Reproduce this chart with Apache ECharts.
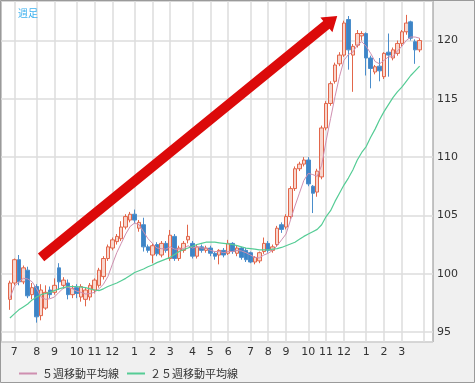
<!DOCTYPE html>
<html><head><meta charset="utf-8">
<script src="https://cdn.jsdelivr.net/npm/echarts@6/dist/echarts.min.js"></script>
<style>html,body{margin:0;padding:0;background:#f0f0f0}#c{width:475px;height:383px}</style>
</head><body><div id="c"></div>
<script>
// ---- data (weekly candles) ----
const PAD_FRONT = 2, PAD_BACK = 2;
const monthStartWeek = [1,6,10,15,19,23,28,32,36,41,45,49,54,58,62,67,71,75,80,84,88,93];
const monthLabels = ['7','8','9','10','11','12','1','2','3','4','5','6','7','8','9','10','11','12','1','2','3',''];
const opens = [97.8,99.2,101.2,99.3,100.3,98.2,98.9,96.4,97.05,98.6,
98.4,100.5,99.0,99.2,98.2,98.8,98.0,97.8,98.0,98.6,
99.0,99.75,101.3,102.2,102.75,103.0,104.0,104.6,105.1,103.9,
104.2,102.3,101.6,102.5,101.6,102.6,101.3,103.2,101.3,102.0,
102.9,102.6,101.5,102.3,102.0,102.2,101.75,101.6,102.0,101.75,
102.6,101.75,102.2,102.0,101.8,101.0,101.1,101.9,102.6,102.0,
102.5,104.2,104.0,104.9,107.3,109.0,109.4,109.75,107.5,107.0,
108.3,112.5,114.6,116.5,118.0,118.75,121.8,118.75,119.6,120.4,
120.6,118.5,117.3,117.8,116.9,119.0,118.5,118.9,119.75,120.75,
121.6,119.9,119.2];
const closes = [99.2,101.2,99.3,100.5,98.1,98.8,96.3,98.6,98.4,98.2,
99.0,99.3,99.45,98.2,98.75,98.3,98.9,98.6,99.0,99.45,
100.3,101.3,102.3,102.9,103.2,104.0,104.9,105.1,104.6,104.4,
102.3,102.0,102.4,101.7,102.6,102.0,103.3,101.3,102.2,102.6,
103.2,101.5,102.3,102.0,102.2,101.75,101.5,102.0,101.6,102.6,
101.9,102.2,101.4,101.2,101.0,101.4,101.8,102.6,102.0,102.3,
103.9,103.8,104.9,107.3,109.0,109.4,109.75,107.7,106.9,108.8,
112.5,114.6,116.3,117.9,118.75,121.5,119.2,119.5,120.6,120.6,
118.5,117.6,117.75,117.4,118.9,118.75,119.2,119.75,120.75,121.5,
120.2,119.2,120.0];
const lows = [96.9,99.0,99.0,99.1,97.9,97.8,95.8,96.0,96.9,97.9,
98.2,98.6,98.7,97.8,97.9,97.9,97.6,97.2,97.7,98.3,
98.8,99.5,101.1,102.0,102.5,102.8,103.8,104.4,104.3,103.6,
101.9,101.8,100.9,101.5,101.4,101.8,101.1,101.1,101.1,101.8,
102.6,101.3,101.3,101.8,101.8,101.5,101.2,100.8,101.4,101.6,
101.7,101.5,101.2,101.0,100.9,100.8,100.9,101.7,101.8,101.8,
102.3,103.5,103.8,104.7,107.1,108.8,109.2,107.5,105.2,106.6,
108.1,112.3,114.4,116.3,117.8,118.6,117.5,115.6,119.4,120.0,
117.0,115.9,117.1,116.5,116.7,116.9,118.3,118.7,119.5,120.5,
120.0,118.0,119.0];
const highs = [99.4,101.3,101.6,100.7,100.6,99.2,99.1,99.1,99.0,98.9,
99.6,100.9,99.7,99.5,99.0,99.1,99.1,98.8,99.2,99.6,
100.5,101.5,102.5,103.1,103.4,104.5,105.1,105.3,105.5,104.6,
104.8,102.5,102.6,102.7,102.8,102.8,103.75,103.4,102.4,102.8,
104.2,102.8,102.5,102.5,102.4,102.4,101.9,102.1,102.2,102.9,
102.7,102.4,102.3,102.2,101.9,101.5,101.9,103.1,102.8,102.5,
104.1,104.4,105.1,107.5,109.2,109.6,110.0,110.0,107.6,109.0,
112.7,114.8,116.5,118.1,119.0,121.7,122.1,119.7,120.9,120.8,
120.7,118.7,117.9,118.5,119.0,120.6,119.4,120.0,120.9,122.2,
121.7,120.1,120.2];
const ma5 = [97.9,98.9,99.3,99.6,99.55,99.3,98.7,98.0,97.8,97.85,
98.0,98.4,98.75,98.85,98.7,98.5,98.4,98.25,98.3,98.4,
98.7,99.1,99.75,100.8,101.8,102.6,103.4,104.05,104.35,104.2,
103.6,103.0,102.6,102.2,102.15,102.1,102.3,102.1,102.1,102.15,
102.4,102.2,102.3,102.2,102.2,102.0,101.9,101.9,101.8,101.9,
101.9,102.0,101.95,101.8,101.6,101.4,101.35,101.6,101.75,102.0,
102.4,102.9,103.4,104.6,105.8,106.9,108.0,108.6,108.5,108.35,
109.3,111.4,113.3,115.2,116.9,118.3,118.8,119.0,119.6,119.9,
119.5,118.9,118.2,118.0,118.3,118.6,118.6,119.1,119.5,120.0,
120.3,120.3,120.2];
const ma25 = [96.2,96.55,96.9,97.15,97.4,97.75,98.0,98.2,98.3,98.4,
98.55,98.7,98.8,98.9,98.9,98.9,98.85,98.8,98.7,98.6,
98.55,98.7,98.9,99.05,99.2,99.4,99.6,99.85,100.1,100.25,
100.4,100.6,100.75,100.95,101.1,101.25,101.4,101.65,101.9,102.05,
102.2,102.35,102.5,102.6,102.7,102.7,102.7,102.65,102.6,102.55,
102.5,102.4,102.3,102.2,102.15,102.1,102.05,102.05,102.05,102.1,
102.15,102.25,102.4,102.55,102.7,102.95,103.2,103.4,103.6,103.8,
104.2,104.9,105.4,106.2,106.9,107.6,108.2,108.9,109.75,110.4,
110.9,111.7,112.4,113.2,113.9,114.5,115.1,115.6,116.0,116.5,
117.0,117.4,117.8];
const yTickValues = [95,100,105,110,115,120];
const ARROW_TAIL = [9.0, 101.4];   // [slot, value]
const ARROW_TIP = [75.5, 122.1];

// ---- build ----
const N = opens.length;
const S = PAD_FRONT + N + PAD_BACK + 1;
const cats = [];
for (let i = 0; i < S; i++) cats.push('w' + i);
const gridSlots = {}, labelAt = {};
monthStartWeek.forEach((k, j) => { gridSlots[k + PAD_FRONT] = true; if (monthLabels[j]) labelAt[k + PAD_FRONT] = monthLabels[j]; });
const blank4 = ['-','-','-','-'];
const candle = [], l5 = [], l25 = [];
for (let i = 0; i < S; i++) {
  const k = i - PAD_FRONT;
  if (k >= 0 && k < N) {
    candle.push([opens[k], closes[k], lows[k], highs[k]]);
    l5.push(ma5[k]); l25.push(ma25[k]);
  } else { candle.push(blank4.slice()); l5.push('-'); l25.push('-'); }
}
const chart = echarts.init(document.getElementById('c'), null, {renderer: 'canvas'});
const font = 'DejaVu Sans';
const C5 = '#cf8fb0', C25 = '#55cc95';
chart.setOption({
  animation: false,
  backgroundColor: '#f0f0f0',
  title: {text: '週足', left: 13, top: 3, textStyle: {fontSize: 10, color: '#3cb0ee', fontWeight: 'normal', fontFamily: 'Noto Sans CJK JP'}},
  grid: {left: 1, top: 1, right: 42, bottom: 41, show: true, backgroundColor: '#ffffff', borderColor: '#8c8c8c', borderWidth: 1},
  legend: {left: 14, top: 363, icon: 'rect', itemWidth: 18, itemHeight: 2, itemGap: 8,
    textStyle: {fontSize: 11, color: '#333', fontFamily: 'Noto Sans CJK JP'},
    data: ['５週移動平均線', '２５週移動平均線']},
  xAxis: {type: 'category', data: cats, boundaryGap: false,
    axisLine: {show: false}, axisTick: {show: false},
    axisLabel: {interval: (i) => labelAt[i] !== undefined, formatter: (v, i) => labelAt[i] || '', color: '#333', fontSize: 11, fontFamily: font, margin: 5},
    splitLine: {show: true, interval: (i) => !!gridSlots[i], lineStyle: {color: '#dcdcdc', width: 1.5}}},
  yAxis: {type: 'value', position: 'right', min: 94.14, max: 123.39, scale: true,
    axisLine: {show: false}, axisTick: {show: false},
    axisLabel: {margin: 4, color: '#333', fontSize: 11, fontFamily: font,
      formatter: (v) => yTickValues.some(t => Math.abs(t - v) < 1e-6) ? String(Math.round(v)) : ''},
    splitLine: {lineStyle: {color: '#dcdcdc', width: 1.5}}},
  series: [
    {type: 'candlestick', name: '週足', data: candle, barWidth: 4,
      itemStyle: {color: '#f8d6cd', color0: '#3d84c6', borderColor: '#e2664a', borderColor0: '#4a8dcb', borderWidth: 1}},
    {type: 'line', name: '５週移動平均線', data: l5, symbol: 'none', lineStyle: {color: C5, width: 1}, itemStyle: {color: C5}},
    {type: 'line', name: '２５週移動平均線', data: l25, symbol: 'none', lineStyle: {color: C25, width: 1.2}, itemStyle: {color: C25}}
  ]
});
function toPx(p) {
  const i0 = Math.floor(p[0]), f = p[0] - i0;
  const a = chart.convertToPixel({gridIndex: 0}, [i0, p[1]]);
  const b = chart.convertToPixel({gridIndex: 0}, [i0 + 1, p[1]]);
  return [a[0] + (b[0] - a[0]) * f, a[1]];
}
const t = toPx(ARROW_TAIL), h = toPx(ARROW_TIP);
const dx = h[0] - t[0], dy = h[1] - t[1], L = Math.hypot(dx, dy);
const ux = dx / L, uy = dy / L, nx = -uy, ny = ux;
const sw = 5, hl = 14, hw = 9.5;
const nk = [h[0] - ux * hl, h[1] - uy * hl];
const pts = [
  [t[0] + nx * sw, t[1] + ny * sw], [nk[0] + nx * sw, nk[1] + ny * sw], [nk[0] + nx * hw, nk[1] + ny * hw],
  h, [nk[0] - nx * hw, nk[1] - ny * hw], [nk[0] - nx * sw, nk[1] - ny * sw], [t[0] - nx * sw, t[1] - ny * sw]
];
chart.setOption({graphic: [
  {type: 'polygon', z: 100, shape: {points: pts}, style: {fill: '#dc0a0a'}},
  {type: 'rect', z: 100, shape: {x: 0.5, y: 0.5, width: 474, height: 382}, style: {fill: 'none', stroke: '#9a9a9a', lineWidth: 1}}
]});
</script></body></html>
